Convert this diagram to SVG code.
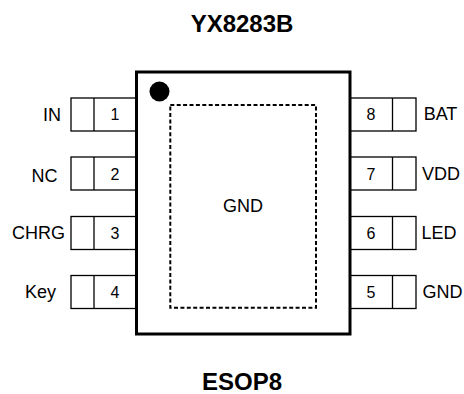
<svg xmlns="http://www.w3.org/2000/svg" width="464" height="394" viewBox="0 0 464 394">
<style>
text{font-family:"Liberation Sans",Arial,sans-serif;fill:#000;text-anchor:middle}
.t{font-size:24px;font-weight:bold}
.l{font-size:18px}
.n{font-size:16px}
.p{fill:#fff;stroke:#000;stroke-width:1.3}
</style>
<rect width="464" height="394" fill="#fff"/>
<text class="t" x="242" y="32">YX8283B</text>
<text class="t" x="242" y="390">ESOP8</text>
<g id="pin1"><rect class="p" x="71" y="98" width="66" height="33"/><path class="p" d="M94 98V131"/><text class="l" x="52" y="120.5">IN</text><text class="n" x="115" y="120">1</text></g>
<g id="pin2"><rect class="p" x="71" y="157" width="66" height="33"/><path class="p" d="M94 157V190"/><text class="l" x="44.5" y="181.5">NC</text><text class="n" x="115" y="179.5">2</text></g>
<g id="pin3"><rect class="p" x="71" y="216.5" width="66" height="33"/><path class="p" d="M94 216.5V249.5"/><text class="l" x="38.5" y="239">CHRG</text><text class="n" x="115" y="239">3</text></g>
<g id="pin4"><rect class="p" x="71" y="275.5" width="66" height="33"/><path class="p" d="M94 275.5V308.5"/><text class="l" x="40.5" y="297.5">Key</text><text class="n" x="115" y="298">4</text></g>
<g id="pin8"><rect class="p" x="350" y="98" width="66" height="33"/><path class="p" d="M392.5 98V131"/><text class="l" x="440.5" y="120">BAT</text><text class="n" x="371" y="120">8</text></g>
<g id="pin7"><rect class="p" x="350" y="157" width="66" height="33"/><path class="p" d="M392.5 157V190"/><text class="l" x="441" y="179.5">VDD</text><text class="n" x="371" y="179.5">7</text></g>
<g id="pin6"><rect class="p" x="350" y="216.5" width="66" height="33"/><path class="p" d="M392.5 216.5V249.5"/><text class="l" x="439" y="239">LED</text><text class="n" x="371" y="239">6</text></g>
<g id="pin5"><rect class="p" x="350" y="275.5" width="66" height="33"/><path class="p" d="M392.5 275.5V308.5"/><text class="l" x="442.5" y="297.5">GND</text><text class="n" x="371" y="298">5</text></g>
<g id="chip"><rect x="136.5" y="72" width="213.5" height="262" fill="none" stroke="#000" stroke-width="3"/>
<circle cx="159.5" cy="91.5" r="10" fill="#000"/>
<rect x="170.3" y="105" width="145.7" height="202.7" fill="none" stroke="#000" stroke-width="2" stroke-dasharray="4 2.4"/>
<text class="l" x="243" y="211.5">GND</text></g>
</svg>
